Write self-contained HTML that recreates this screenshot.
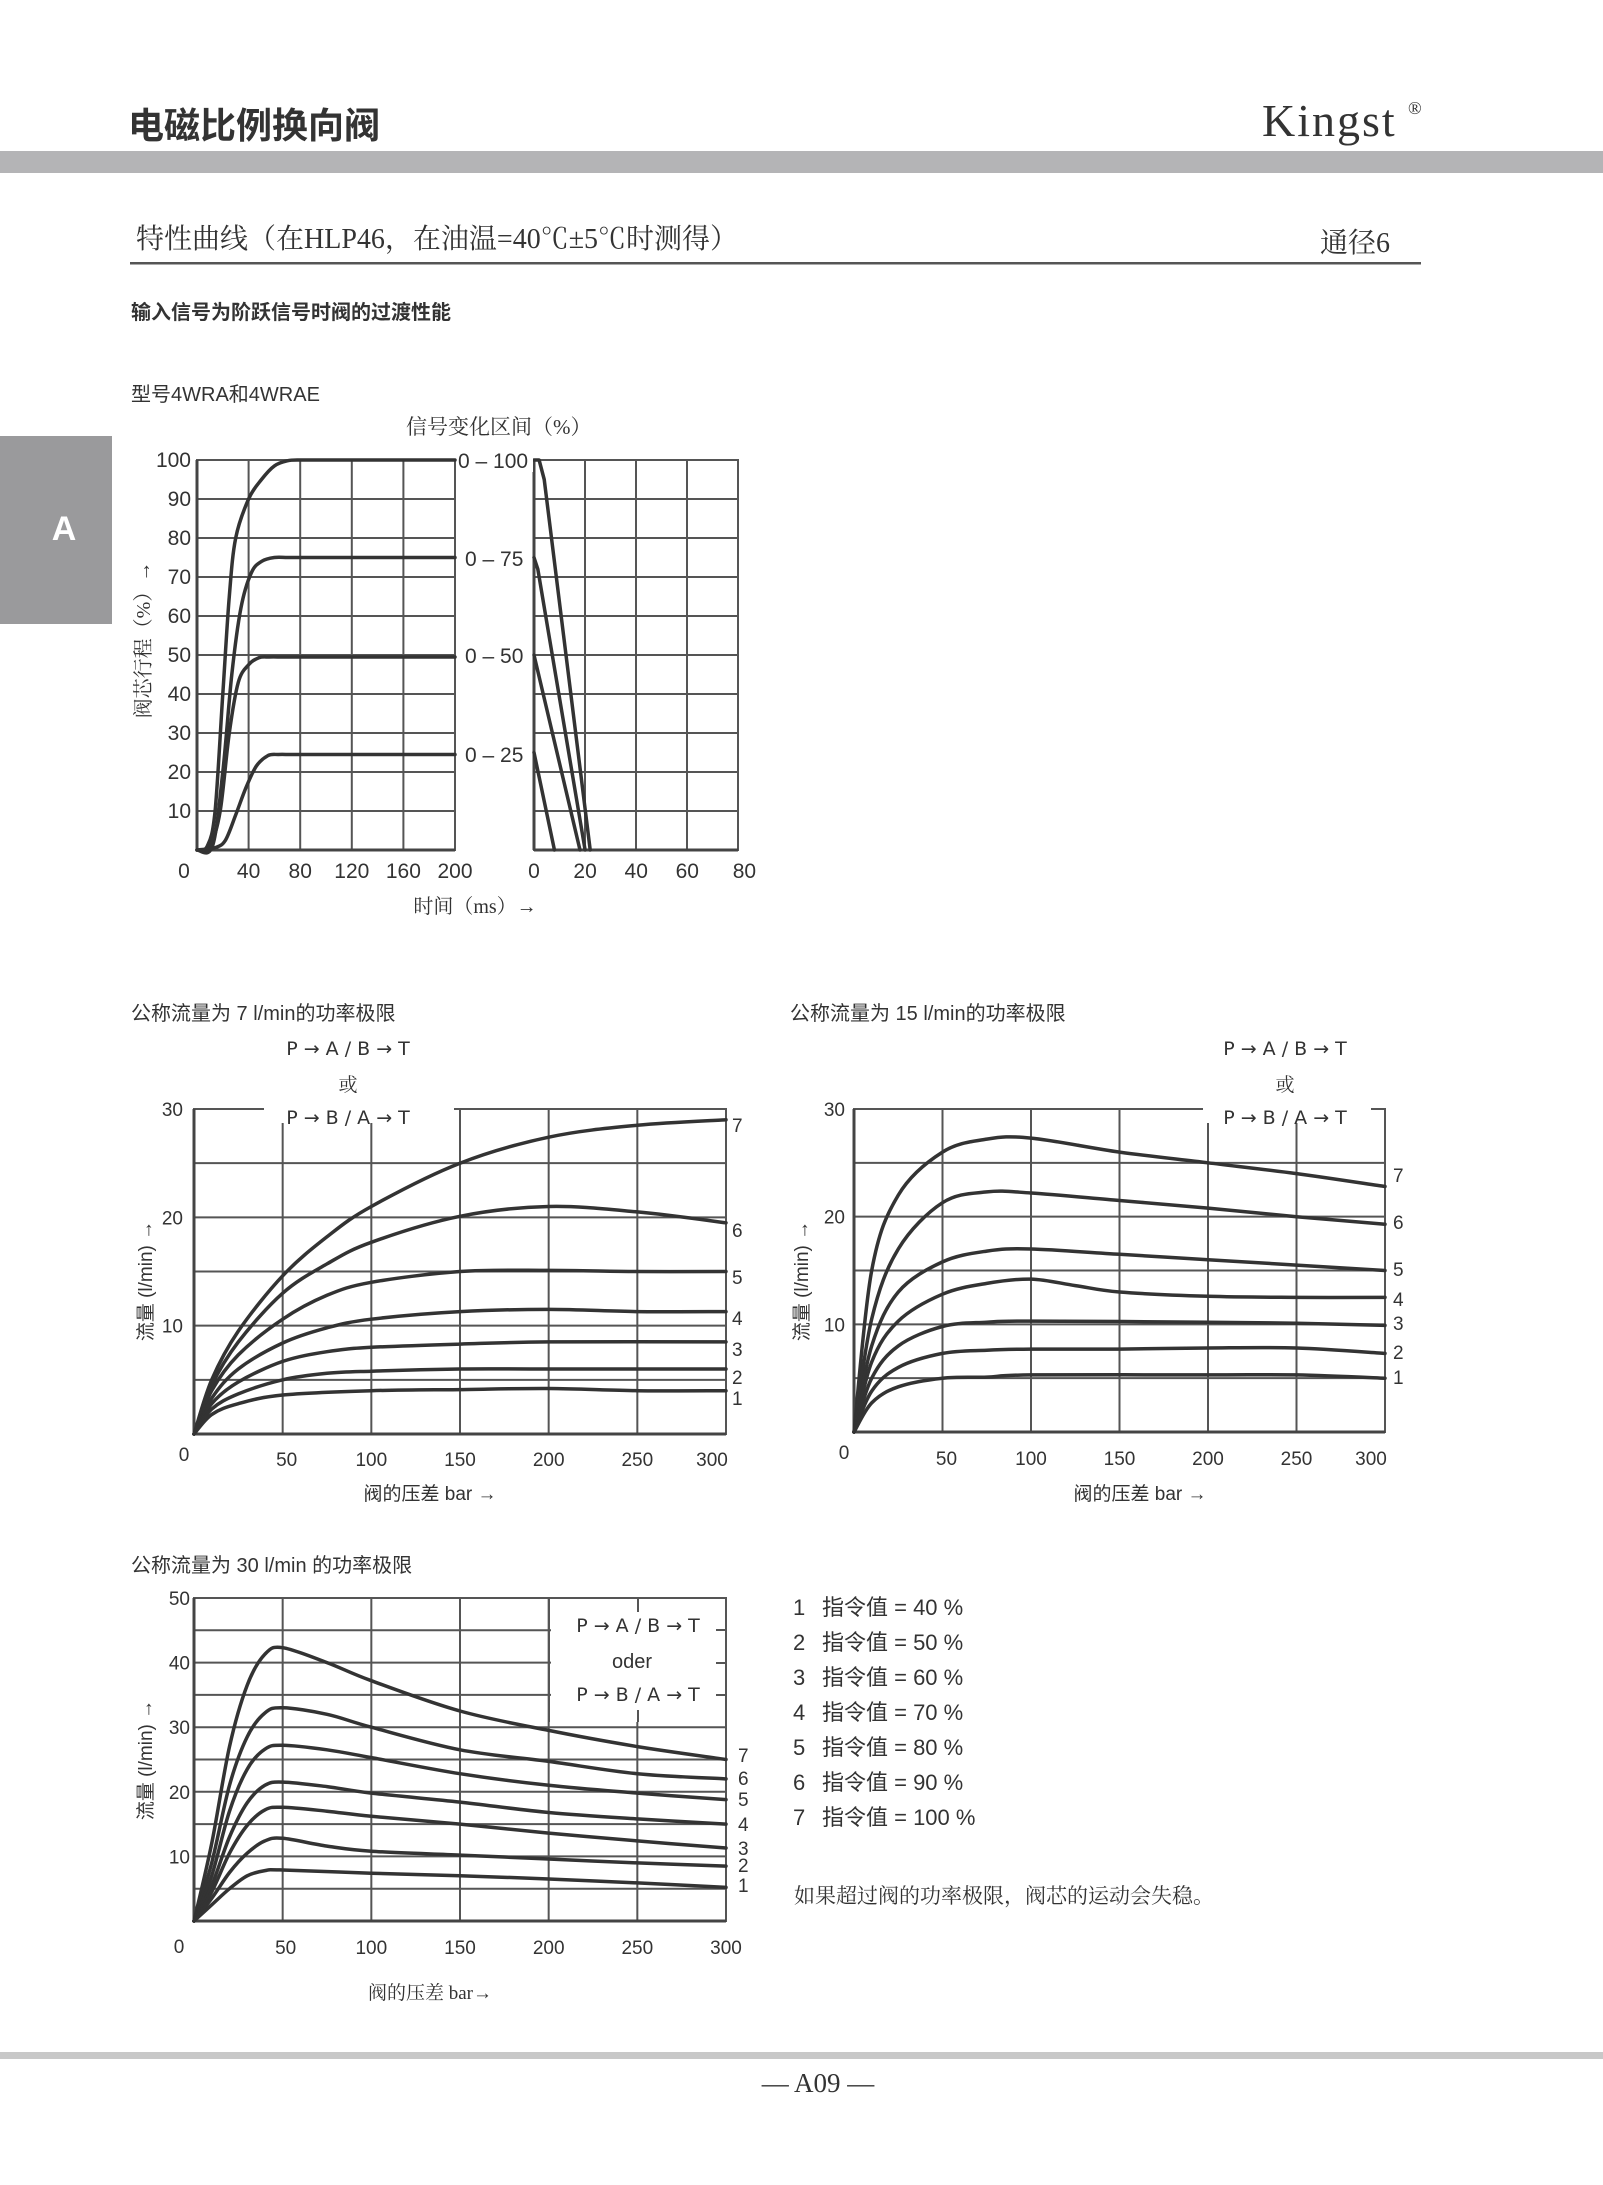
<!DOCTYPE html>
<html><head><meta charset="utf-8"><style>
body{margin:0;background:#fff}
svg{display:block}
text{font-family:"Liberation Sans","Noto Sans CJK SC",sans-serif;fill:#333}
.s{font-family:"Liberation Serif","Noto Serif CJK SC",serif}
.g{stroke:#555;stroke-width:2;fill:none}
.c{stroke:#333;stroke-width:3.5;fill:none;stroke-linejoin:round;stroke-linecap:round}
</style></head><body>
<svg id="sv" width="1603" height="2185" viewBox="0 0 1603 2185" xmlns="http://www.w3.org/2000/svg">
<text x="128" y="138" font-size="36" font-weight="bold" style="font-family:'Noto Sans CJK SC',sans-serif">电磁比例换向阀</text>
<text x="1262" y="136" font-size="46" class="s" style="letter-spacing:2px">Kingst</text>
<text x="1408" y="114" font-size="18" class="s">®</text>
<rect x="0" y="151" width="1603" height="22" fill="#b4b4b6"/>
<text x="136" y="248" font-size="28" class="s">特性曲线（在HLP46，在油温=40℃±5℃时测得）</text>
<text x="1390" y="252" font-size="28" class="s" text-anchor="end">通径6</text>
<rect x="130" y="262" width="1291" height="2.5" fill="#555"/>
<text x="131" y="319" font-size="20" font-weight="bold">输入信号为阶跃信号时阀的过渡性能</text>
<text x="131" y="401" font-size="20">型号4WRA和4WRAE</text>
<text x="406" y="434" font-size="21" class="s">信号变化区间（%）</text>
<rect x="0" y="436" width="112" height="188" fill="#9a9a9c"/>
<text x="64" y="540" font-size="34" font-weight="bold" text-anchor="middle" style="fill:#fff">A</text>
<g id="ch"></g>
<rect x="0" y="2052" width="1603" height="7" fill="#c8c8c8"/>
<text x="818" y="2092" font-size="27" class="s" text-anchor="middle">— A09 —</text>
</svg>
<script>
var NS="http://www.w3.org/2000/svg",G=document.getElementById('ch');
function el(t,a,txt){var e=document.createElementNS(NS,t);for(var k in a)e.setAttribute(k,a[k]);if(txt!=null)e.textContent=txt;G.appendChild(e);return e;}
function cr(p){var d="M"+p[0][0].toFixed(1)+","+p[0][1].toFixed(1);for(var i=0;i<p.length-1;i++){var p0=p[i-1]||p[i],p1=p[i],p2=p[i+1],p3=p[i+2]||p2;
var c1=[p1[0]+(p2[0]-p0[0])/6,p1[1]+(p2[1]-p0[1])/6],c2=[p2[0]-(p3[0]-p1[0])/6,p2[1]-(p3[1]-p1[1])/6];
d+="C"+c1[0].toFixed(1)+","+c1[1].toFixed(1)+" "+c2[0].toFixed(1)+","+c2[1].toFixed(1)+" "+p2[0].toFixed(1)+","+p2[1].toFixed(1);}return d;}
function grid(x0,x1,y0,y1,nx,ny){var i;for(i=1;i<nx;i++){var x=x0+(x1-x0)*i/nx;el('line',{x1:x,y1:y0,x2:x,y2:y1,'class':'g'});}
for(i=1;i<ny;i++){var y=y0+(y1-y0)*i/ny;el('line',{x1:x0,y1:y,x2:x1,y2:y,'class':'g'});}
el('rect',{x:x0,y:y0,width:x1-x0,height:y1-y0,'class':'g'});
el('line',{x1:x0,y1:y0,x2:x0,y2:y1,stroke:'#444','stroke-width':3});el('line',{x1:x0,y1:y1,x2:x1,y2:y1,stroke:'#444','stroke-width':3});}
function curve(pts,fx,fy){el('path',{d:cr(pts.map(function(q){return [fx(q[0]),fy(q[1])];})),'class':'c'});}
function T(x,y,s,fs,anc,extra){var a={x:x,y:y,'font-size':fs||20};if(anc)a['text-anchor']=anc;if(extra)for(var k in extra)a[k]=extra[k];return el('text',a,s);}
function flat(v,a){var r=[];for(var t=a;t<200;t+=10)r.push([t,v]);r.push([200,v]);return r;}

var ax=function(t){return 197+t*1.29},ay=function(v){return 850-v*3.9};
grid(197,455,460,850,5,10);
curve([[0,0],[8,1],[14,10],[20,40],[25,65],[30,80],[40,90],[50,95],[60,98.5],[70,99.8]].concat(flat(100,80)),ax,ay);
curve([[0,0],[12,1],[20,20],[27,45],[34,62],[42,71],[50,74],[60,75]].concat(flat(75,70)),ax,ay);
curve([[0,0],[10,1],[18,10],[25,30],[32,43],[40,47.5],[48,49.3]].concat(flat(49.5,56)),ax,ay);
curve([[0,0],[14,0.6],[22,2.5],[30,9],[38,16],[46,21.5],[55,24.2],[63,24.5]].concat(flat(24.5,72)),ax,ay);
var bx=function(t){return 534+t*2.555};
grid(534,738,460,850,4,10);
el('path',{d:"M"+bx(0)+","+ay(100)+"L"+bx(2)+","+ay(100)+"L"+bx(4)+","+ay(95)+"L"+bx(22)+","+ay(0),'class':'c'});
el('path',{d:"M"+bx(0)+","+ay(75)+"L"+bx(1.5)+","+ay(72)+"L"+bx(20)+","+ay(0),'class':'c'});
el('path',{d:"M"+bx(0)+","+ay(50)+"L"+bx(18)+","+ay(0),'class':'c'});
el('path',{d:"M"+bx(0)+","+ay(25)+"L"+bx(8)+","+ay(0),'class':'c'});
[100,90,80,70,60,50,40,30,20,10].forEach(function(v){T(191,ay(v)+7,v,21,'end');});
T(184,878,"0",21,'middle');[40,80,120,160,200].forEach(function(v){T(ax(v),878,v,21,'middle');});
[0,20,40,60,80].forEach(function(v){T(bx(v)+(v==80?6:0),878,v,21,'middle');});
T(475,913,"时间（ms）→",20,'middle',{'class':'s'});
T(150,640,"阀芯行程（%）→",20,'middle',{transform:'rotate(-90 150 640)','class':'s'});
el('rect',{x:458,y:450,width:75,height:22,fill:'#fff'});
T(458,468,"0 – 100",21);T(465,566,"0 – 75",21);T(465,663,"0 – 50",21);T(465,762,"0 – 25",21);

function flow(x0,y0,x1,y1,qmax,ny,curves){
 var fx=function(p){return x0+p*(x1-x0)/300},fy=function(q){return y1-q*(y1-y0)/qmax};
 grid(x0,x1,y0,y1,6,ny);
 curves.forEach(function(c){curve(c,fx,fy);});
 return {fx:fx,fy:fy};
}
var AR={'style':'font-family:"DejaVu Sans","Liberation Sans",sans-serif'};
var c2=flow(194,1109,726,1434,30,6,[
[[0,0],[10,5],[25,9.5],[50,14.6],[75,18.2],[100,21],[150,25],[200,27.4],[250,28.5],[300,29]],
[[0,0],[10,4.5],[25,8.5],[50,13],[75,15.7],[100,17.7],[150,20.1],[200,21],[250,20.5],[300,19.5]],
[[0,0],[10,4],[25,7.3],[50,10.6],[75,12.8],[100,14],[150,15],[200,15.1],[250,15],[300,15]],
[[0,0],[10,3.3],[25,6],[50,8.4],[75,9.8],[100,10.6],[150,11.3],[200,11.5],[250,11.3],[300,11.3]],
[[0,0],[10,2.8],[25,4.8],[50,6.7],[75,7.6],[100,8],[150,8.3],[200,8.5],[300,8.5]],
[[0,0],[10,2.3],[25,3.7],[50,5],[75,5.6],[100,5.8],[150,6],[200,6],[300,6]],
[[0,0],[10,1.8],[25,2.8],[50,3.6],[100,4],[150,4.1],[200,4.2],[250,4],[300,4]]]);
T(131,1020,"公称流量为 7 l/min的功率极限",20);
T(348,1055,"P → A / B  → T",19,'middle',AR);T(348,1091,"或",19,'middle',{'class':'s'});
el('rect',{x:264,y:1099,width:190,height:24,fill:'#fff'});
T(348,1124,"P → B / A  → T",19,'middle',AR);
[30,20,10].forEach(function(v){T(183,c2.fy(v)+7,v,19,'end');});
T(184,1461,"0",19,'middle');[50,100,150,200,250,300].forEach(function(v){T(c2.fx(v)-(v==300?14:0)+(v==50?4:0),1466,v,19,'middle');});
T(430,1500,"阀的压差 bar →",19,'middle');
T(152,1281,"流量 (l/min) →",19,'middle',{transform:'rotate(-90 152 1281)'});
[[7,1125],[6,1230],[5,1277],[4,1318],[3,1349],[2,1377],[1,1398]].forEach(function(a){T(732,a[1]+7,a[0],19);});

var c3=flow(854,1109,1385,1432,30,6,[
[[0,0],[10,15],[25,22],[50,26],[75,27.2],[100,27.3],[150,26],[200,25],[250,24],[300,22.8]],
[[0,0],[10,10.5],[25,17],[50,21.3],[75,22.3],[100,22.2],[150,21.5],[200,20.8],[250,20],[300,19.3]],
[[0,0],[10,8],[25,13],[50,15.8],[75,16.8],[100,17],[150,16.5],[200,16],[250,15.5],[300,15]],
[[0,0],[10,6.5],[25,10.3],[50,12.8],[75,13.8],[100,14.2],[125,13.6],[150,13],[200,12.6],[250,12.5],[300,12.5]],
[[0,0],[10,5],[25,8],[50,9.8],[75,10.2],[100,10.3],[200,10.2],[250,10.1],[300,9.9]],
[[0,0],[10,3.8],[25,6],[50,7.3],[75,7.6],[100,7.7],[150,7.7],[200,7.8],[250,7.8],[300,7.3]],
[[0,0],[10,2.7],[25,4.2],[50,5],[75,5.1],[100,5.3],[200,5.3],[250,5.3],[300,5]]]);
T(790,1020,"公称流量为 15 l/min的功率极限",20);
T(1285,1055,"P → A / B  → T",19,'middle',AR);T(1285,1091,"或",19,'middle',{'class':'s'});
el('rect',{x:1203,y:1099,width:168,height:24,fill:'#fff'});
T(1285,1124,"P → B / A  → T",19,'middle',AR);
[30,20,10].forEach(function(v){T(845,c3.fy(v)+7,v,19,'end');});
T(844,1459,"0",19,'middle');[50,100,150,200,250,300].forEach(function(v){T(c3.fx(v)-(v==300?14:0)+(v==50?4:0),1465,v,19,'middle');});
T(1140,1500,"阀的压差 bar →",19,'middle');
T(808,1281,"流量 (l/min) →",19,'middle',{transform:'rotate(-90 808 1281)'});
[[7,1175],[6,1222],[5,1269],[4,1299],[3,1323],[2,1352],[1,1377]].forEach(function(a){T(1393,a[1]+7,a[0],19);});

var c4=flow(194,1598,726,1921,50,10,[
[[0,0],[10,12],[20,27],[30,36.5],[40,41.3],[50,42.3],[75,40],[100,37.2],[150,32.5],[200,29.5],[250,27],[300,25]],
[[0,0],[10,9],[20,21],[30,28.5],[40,32.2],[50,33],[75,32],[100,30],[150,26.5],[200,24.7],[250,22.8],[300,22]],
[[0,0],[10,7],[20,17],[30,23.5],[40,26.6],[50,27.2],[75,26.5],[100,25.3],[150,22.8],[200,21],[250,19.8],[300,18.8]],
[[0,0],[10,5.5],[20,13],[30,18.3],[40,21],[50,21.5],[75,20.8],[100,19.8],[150,18.4],[200,16.8],[250,15.8],[300,15]],
[[0,0],[10,4.5],[20,10.5],[30,14.8],[40,17.2],[50,17.6],[75,17],[100,16.2],[150,15],[200,13.6],[250,12.4],[300,11.3]],
[[0,0],[10,3.5],[20,7.5],[30,10.5],[40,12.4],[50,12.8],[75,11.6],[100,10.8],[150,10.2],[200,9.6],[250,9],[300,8.5]],
[[0,0],[10,2.5],[20,5],[30,7],[40,7.8],[50,7.9],[100,7.4],[150,7],[200,6.5],[250,5.9],[300,5.2]]]);
el('rect',{x:551,y:1599,width:174,height:123,fill:'#fff'});
el('line',{x1:726,y1:1598,x2:726,y2:1722,'class':'g'});el('line',{x1:549,y1:1598,x2:549,y2:1722,'class':'g'});
el('line',{x1:638,y1:1599,x2:638,y2:1612,'class':'g'});el('line',{x1:638,y1:1710,x2:638,y2:1722,'class':'g'});
[1630,1663,1695].forEach(function(y){el('line',{x1:716,y1:y,x2:726,y2:y,'class':'g'});});
T(131,1572,"公称流量为 30 l/min 的功率极限",20);
T(638,1632,"P → A / B  → T",19,'middle',AR);T(632,1668,"oder",20,'middle');T(638,1701,"P → B / A  → T",19,'middle',AR);
[50,40,30,20,10].forEach(function(v){T(190,c4.fy(v)+7,v,19,'end');});
T(179,1953,"0",19,'middle');[50,100,150,200,250,300].forEach(function(v){T(c4.fx(v)+(v==50?3:0),1954,v,19,'middle');});
T(430,1999,"阀的压差 bar→",19,'middle',{'class':'s'});
T(152,1760,"流量 (l/min) →",19,'middle',{transform:'rotate(-90 152 1760)'});
[[7,1755],[6,1778],[5,1799],[4,1824],[3,1848],[2,1865],[1,1885]].forEach(function(a){T(738,a[1]+7,a[0],19);});

var pc=[40,50,60,70,80,90,100];
pc.forEach(function(v,i){var y=1607+i*35+8;T(793,y,(i+1),22);T(822,y,"指令值 = "+v+" %",22);});
T(794,1903,"如果超过阀的功率极限，阀芯的运动会失稳。",21,null,{'class':'s'});
</script>
</body></html>
